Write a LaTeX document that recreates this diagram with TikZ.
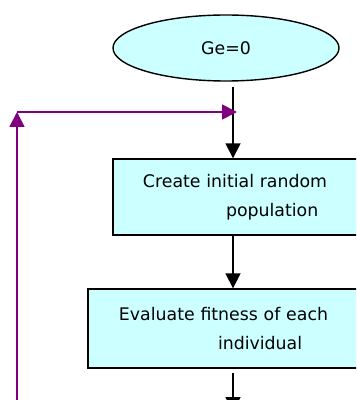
\documentclass[tikz,border=0pt]{standalone}
\usepackage{fontspec}
\setmainfont{DejaVu Sans}
\usetikzlibrary{shapes.geometric,arrows.meta}

\begin{document}
\begin{tikzpicture}[x=0.03cm, y=-0.03cm,
	>={Triangle[width=0.45cm,length=0.45cm]},
	flow/.style={->, line width=1.5pt},
	back/.style={->, line width=1.5pt, draw=loopcol},
	stepbox/.style={draw, line width=1.2pt, fill=boxcol, inner ysep=0pt, align=left,
		font=\fontsize{14.8pt}{24.6pt}\selectfont}]
	\definecolor{boxcol}{HTML}{CCFFFF}
	\definecolor{loopcol}{HTML}{800080}
	\useasboundingbox (0,0) rectangle (356,400);
	\clip (0,0) rectangle (356,400);
	% start of the generation counter
	\node[ellipse, draw, line width=1.2pt, fill=boxcol, inner sep=0pt,
		minimum width=6.78cm, minimum height=1.98cm,
		font=\fontsize{14.8pt}{18pt}\selectfont] (ge) at (226,48) {Ge=0};
	% the two steps, both run past the right edge
	\node[stepbox, inner xsep=0.9cm, text width=6.81cm, minimum height=2.28cm]
		(create) at (256.5,197) {Create initial random\\\hspace*{2.49cm}population};
	\node[stepbox, inner xsep=0.93cm, text width=7.5cm, minimum height=2.37cm]
		(eval) at (244,328.5) {Evaluate fitness of each\\\hspace*{2.97cm}individual};
	\coordinate (start) at (233,87);
	\coordinate (join) at (237,112);
	\coordinate (corner) at (17,112);
	\coordinate (loop) at (17,410);
	\coordinate (next) at (233,412);
	\draw[flow] (start) -- (start |- create.north);
	\draw[flow] (start |- create.south) -- (start |- eval.north);
	\draw[flow, shorten <=4pt] (start |- eval.south) -- (next);
	% loop back to the next generation
	\draw[back] (loop) -- (corner);
	\draw[back] (corner) -- (join);
\end{tikzpicture}
\end{document}
